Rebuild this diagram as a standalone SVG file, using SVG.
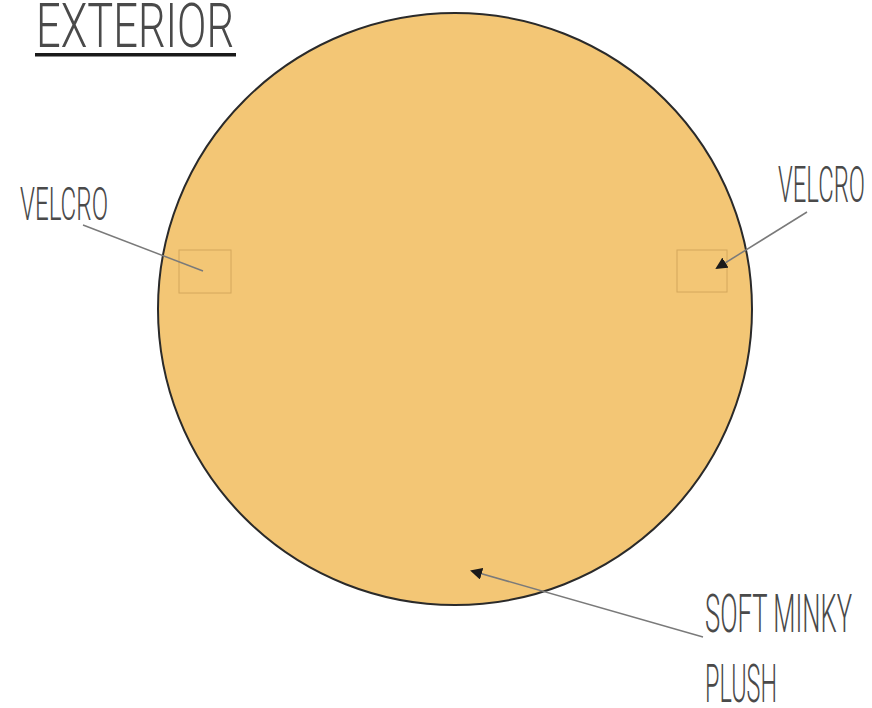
<svg xmlns="http://www.w3.org/2000/svg" width="872" height="708" viewBox="0 0 872 708">
  <style>
    .hand { font-family: Roboto, "Liberation Sans", "DejaVu Sans", sans-serif; fill: #4a4a4a; font-weight: 300; }
    .leader { stroke: #7a7a7a; stroke-width: 1.5; fill: none; }
    .velcro { fill: none; stroke: #c89a52; stroke-width: 1; opacity: 0.7; }
  </style>
  <defs>
    <marker id="tri" viewBox="0 0 12 12" refX="10" refY="6" markerWidth="12" markerHeight="12" markerUnits="userSpaceOnUse" orient="auto">
      <path d="M0,0 L12,6 L0,12 Z" fill="#1a1a1a"/>
    </marker>
  </defs>
  <rect x="0" y="0" width="872" height="708" fill="#ffffff"/>

  <g id="title">
    <text class="hand" x="36" y="47" font-size="62" textLength="198" lengthAdjust="spacingAndGlyphs">EXTERIOR</text>
    <rect x="35" y="53" width="201" height="3.5" fill="#1a1a1a"/>
  </g>

  <g id="disc">
    <ellipse cx="455" cy="309" rx="297" ry="296" fill="#F3C675" stroke="#2a2a2a" stroke-width="2"/>
  </g>

  <g id="velcro-left">
    <rect class="velcro" x="179" y="250" width="52" height="43"/>
  </g>
  <g id="velcro-right">
    <rect class="velcro" x="677" y="250" width="50" height="42"/>
  </g>

  <g id="connectors">
    <line class="leader" x1="83" y1="225" x2="203" y2="271"/>
    <line class="leader" x1="807" y1="212" x2="717" y2="268" marker-end="url(#tri)"/>
    <line class="leader" x1="703" y1="637" x2="472" y2="571" marker-end="url(#tri)"/>
  </g>

  <g id="label-velcro-left">
    <text class="hand" x="20" y="220" font-size="46" textLength="88" lengthAdjust="spacingAndGlyphs">VELCRO</text>
  </g>
  <g id="label-velcro-right">
    <text class="hand" x="778" y="202" font-size="50" textLength="87" lengthAdjust="spacingAndGlyphs">VELCRO</text>
  </g>
  <g id="label-minky">
    <text class="hand" x="705" y="632" font-size="54" textLength="147" lengthAdjust="spacingAndGlyphs">SOFT MINKY</text>
    <text class="hand" x="705" y="702" font-size="54" textLength="72" lengthAdjust="spacingAndGlyphs">PLUSH</text>
  </g>
</svg>
